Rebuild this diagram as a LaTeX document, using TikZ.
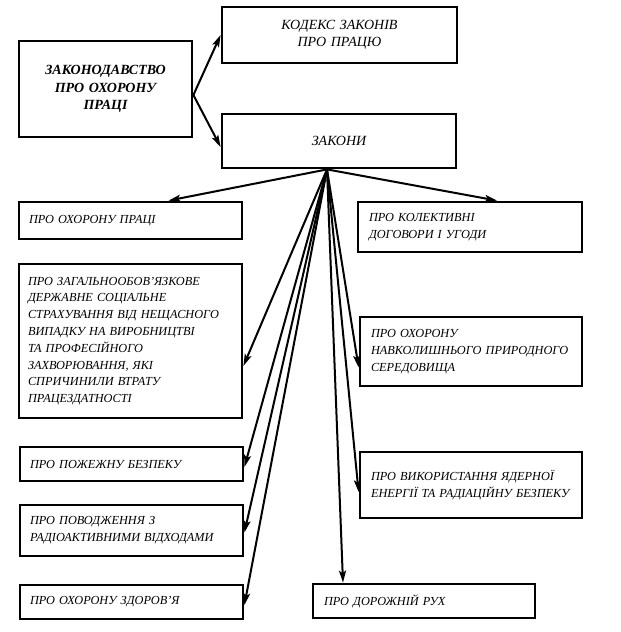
\documentclass[tikz,border=0pt]{standalone}
\usepackage{fontspec}
\setmainfont{Liberation Serif}
\usetikzlibrary{arrows.meta,calc}
\begin{document}
\begin{tikzpicture}[x=1pt,y=-1pt,
  box/.style={draw, line width=2.8pt, inner xsep=10pt, inner ysep=3pt, align=left,
    font={\fontsize{12.3pt}{16.8pt}\selectfont\itshape}},
  bigbox/.style={draw, line width=2.8pt, inner sep=3pt, align=center,
    font={\fontsize{14pt}{16.7pt}\selectfont\itshape}},
  arr/.style={line width=2pt, -{Stealth[length=12pt,width=7pt,inset=2.5pt]}}]
\useasboundingbox[fill=white] (0,0) rectangle (621,632);
% top part
\node[bigbox, minimum width=173pt, minimum height=96pt, text width=160pt,
  font={\fontsize{14pt}{17.5pt}\selectfont\bfseries\itshape}] (main) at (105.5,89)
  {ЗАКОНОДАВСТВО\\ПРО ОХОРОНУ\\ПРАЦІ};
\node[bigbox, minimum width=235pt, minimum height=56pt, text width=200pt] (kodeks) at (339.5,35)
  {КОДЕКС ЗАКОНІВ\\ПРО ПРАЦЮ};
\node[bigbox, minimum width=234pt, minimum height=54pt, text width=200pt] (zakony) at (339,141)
  {ЗАКОНИ};
% left column
\node[box, minimum height=37pt, text width=203pt] (ohorpr) at (130.5,220.5)
  {ПРО ОХОРОНУ ПРАЦІ};
\node[box, minimum height=154pt, text width=205pt, inner xsep=9pt] (zagal) at (130.5,341)
  {ПРО ЗАГАЛЬНООБОВ’ЯЗКОВЕ\\ДЕРЖАВНЕ СОЦІАЛЬНЕ\\СТРАХУВАННЯ ВІД НЕЩАСНОГО\\ВИПАДКУ НА ВИРОБНИЦТВІ\\ТА ПРОФЕСІЙНОГО\\ЗАХВОРЮВАННЯ, ЯКІ\\СПРИЧИНИЛИ ВТРАТУ\\ПРАЦЕЗДАТНОСТІ};
\node[box, minimum height=34pt, text width=203pt] (pozhezh) at (131.5,464)
  {ПРО ПОЖЕЖНУ БЕЗПЕКУ};
\node[box, minimum height=51pt, text width=203pt] (povodzh) at (131.5,530.5)
  {ПРО ПОВОДЖЕННЯ З\\РАДІОАКТИВНИМИ ВІДХОДАМИ};
\node[box, minimum height=34pt, text width=203pt] (zdorov) at (131.5,602)
  {ПРО ОХОРОНУ ЗДОРОВ’Я};
% right column
\node[box, minimum height=50pt, text width=202pt, inner xsep=11pt] (kolekt) at (470,227)
  {ПРО КОЛЕКТИВНІ\\ДОГОВОРИ І УГОДИ};
\node[box, minimum height=69pt, text width=200pt, inner xsep=11pt] (navkol) at (471,351.5)
  {ПРО ОХОРОНУ\\НАВКОЛИШНЬОГО ПРИРОДНОГО\\СЕРЕДОВИЩА};
\node[box, minimum height=66pt, text width=200pt, inner xsep=11pt] (vykor) at (471,485)
  {ПРО ВИКОРИСТАННЯ ЯДЕРНОЇ\\ЕНЕРГІЇ ТА РАДІАЦІЙНУ БЕЗПЕКУ};
\node[box, minimum height=34pt, text width=200pt, inner xsep=11pt] (dorozh) at (424,601)
  {ПРО ДОРОЖНІЙ РУХ};
% connectors
\coordinate (s0) at ([yshift=-6pt]main.east);
\coordinate (hub) at ([xshift=-12pt]zakony.south);
\draw[arr] (s0) -- (kodeks.west);
\draw[arr] (s0) -- ([yshift=-6pt]zakony.west);
\draw[arr] (hub) -- ([xshift=38pt]ohorpr.north);
\draw[arr] (hub) -- ([xshift=27pt]kolekt.north);
\draw[arr] (hub) -- ([yshift=-25pt]zagal.east);
\draw[arr] (hub) -- ([yshift=-16pt]navkol.west);
\draw[arr] (hub) -- ([yshift=-3pt]pozhezh.east);
\draw[arr] (hub) -- ([yshift=-7pt]vykor.west);
\draw[arr] (hub) -- ([yshift=-2pt]povodzh.east);
\draw[arr] (hub) -- ([xshift=-81pt]dorozh.north);
\draw[arr] (hub) -- ([yshift=-3pt]zdorov.east);
\end{tikzpicture}
\end{document}
